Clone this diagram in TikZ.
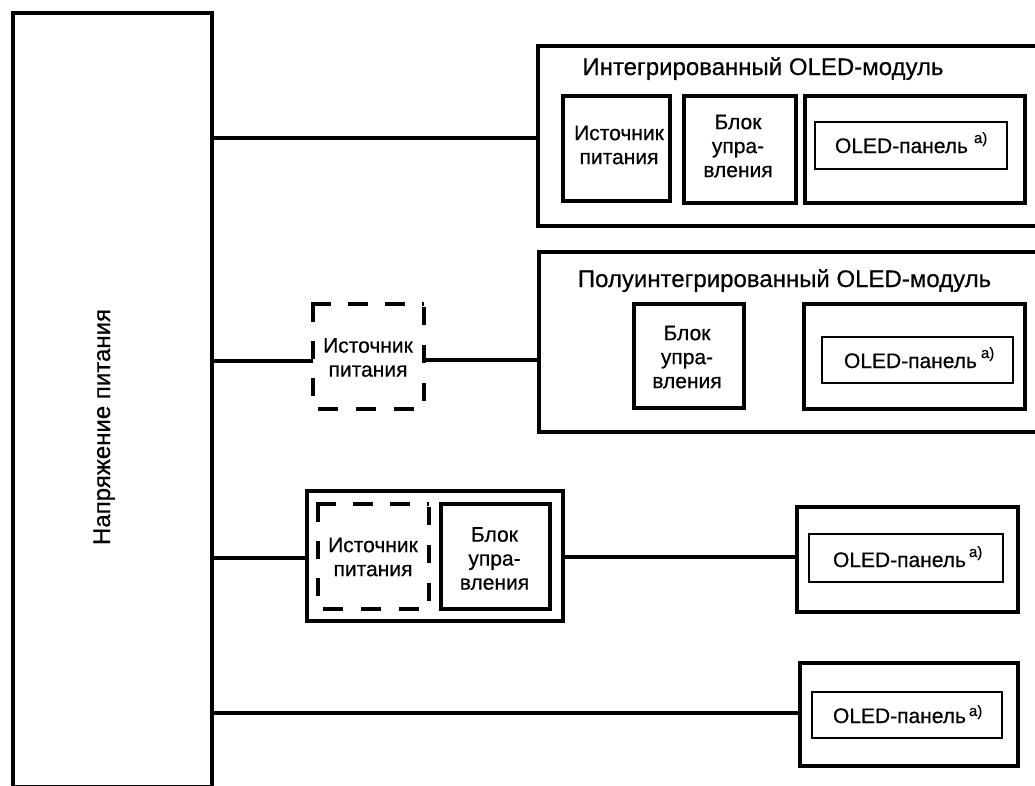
\documentclass[tikz,border=0pt]{standalone}
\usepackage{fontspec}
\setmainfont{Liberation Sans}[RawFeature={embolden=0.5}]
\tikzset{
  every node/.style={outer sep=0pt,inner sep=0pt},
  heavy/.style={draw=black,line width=4pt,fill=none},
  thin box/.style={draw=black,line width=2pt,fill=none},
  plain/.style={draw=none},
  wire/.style={draw=black,line width=4pt},
  dashline/.style={draw=black,line width=4pt},
  body/.style={font=\fontsize{21}{24}\selectfont,align=center,anchor=center},
  oneline/.style={font=\fontsize{21}{24}\selectfont,anchor=base west},
  title/.style={font=\fontsize{24}{24}\selectfont,anchor=base},
}
% name, x1, y1, x2, y2, style
\newcommand{\bx}[6]{\node[#6,minimum width=#4pt-#2pt,minimum height=#5pt-#3pt] (#1) at ({(#2+#4)/2},{(#3+#5)/2}) {};}
\newcommand{\dashedframe}[1]{%
  \draw[dashline,dash pattern=on 20pt off 17pt] (#1.north west) ++(-2,0) -- (#1.north east);
  \draw[dashline,dash pattern=on 18pt off 19pt] (#1.north west) -- (#1.south west);
  \draw[dashline,dash pattern=on 18pt off 20pt,dash phase=35pt] (#1.north east) -- (#1.south east);
  \draw[dashline,dash pattern=on 20pt off 18pt,dash phase=33pt] (#1.south west) -- (#1.south east);
}
% name, x, baseline, gap before the note mark, its rise
\newcommand{\oled}[5]{\node[oneline] (#1) at (#2,#3) {OLED-панель\hspace{#4pt}\raisebox{#5pt}{\fontsize{15}{15}\selectfont а)}};}
\begin{document}
\begin{tikzpicture}[x=1pt,y=-1pt]
\useasboundingbox (0,0) rectangle (1035,785);
\fill[white] (0,0) rectangle (1035,785);
% supply bar
\bx{supply}{13}{13}{212}{787}{heavy}
\node[rotate=90,font=\fontsize{24}{24}\selectfont,anchor=base] (supplytext) at (110,427) {Напряжение питания};
% integrated module
\bx{m1}{538}{46}{1045}{226}{heavy}
\node[title] (m1t) at (763,75) {Интегрированный OLED-модуль};
\bx{m1s}{563}{96}{670}{201}{heavy}
\bx{m1c}{684}{96}{796}{203}{heavy}
\bx{m1p}{805}{96}{1025}{203}{heavy}
\bx{m1i}{815}{122}{1007}{169}{thin box}
\node[body] (m1st) at (619,145) {Источник\\питания};
\node[body] (m1ct) at (738,146) {Блок\\упра-\\вления};
\oled{m1o}{835}{153}{6}{10}
% semi-integrated module
\bx{m2}{539}{252}{1045}{432}{heavy}
\node[title] (m2t) at (784.5,287) {Полуинтегрированный OLED-модуль};
\bx{m2c}{634}{304}{744}{408}{heavy}
\bx{m2p}{804}{304}{1025}{409}{heavy}
\bx{m2i}{822}{337}{1013}{383}{thin box}
\node[body] (m2ct) at (687,357) {Блок\\упра-\\вления};
\oled{m2o}{844}{368}{4}{10}
% external supply
\bx{d1}{313}{304}{424}{409}{plain}
\dashedframe{d1}
\node[body] (d1t) at (368,357.5) {Источник\\питания};
% third row
\bx{g3}{307}{491}{563}{621}{heavy}
\bx{d3}{318}{504}{429}{609}{plain}
\dashedframe{d3}
\node[body] (d3t) at (373,557) {Источник\\питания};
\bx{c3}{441}{504}{550}{609}{heavy}
\node[body] (c3t) at (494.5,558.5) {Блок\\упра-\\вления};
\bx{p3}{797}{507}{1018}{612}{heavy}
\bx{i3}{809}{534}{1003}{582}{thin box}
\oled{p3o}{833}{567}{3}{10}
% fourth row
\bx{p4}{800}{663}{1018}{766}{heavy}
\bx{i4}{812}{692}{1002}{738}{thin box}
\oled{p4o}{833}{723}{3}{7}
% connectors
\coordinate (j1) at (supply.east |- 0,138);
\coordinate (e1) at (m1.west |- 0,138);
\draw[wire] (j1) -- (e1);
\coordinate (j2) at (supply.east |- 0,361);
\coordinate (k2) at (d1.west |- 0,361);
\draw[wire] (j2) -- (k2);
\coordinate (k3) at (d1.east |- 0,360);
\coordinate (e2) at (m2.west |- 0,360);
\draw[wire] (k3) -- (e2);
\coordinate (j3) at (supply.east |- 0,557.5);
\coordinate (k4) at (g3.west |- 0,557.5);
\draw[wire] (j3) -- (k4);
\coordinate (k5) at (g3.east |- 0,557);
\coordinate (e3) at (p3.west |- 0,557);
\draw[wire] (k5) -- (e3);
\coordinate (j4) at (supply.east |- 0,713);
\coordinate (e4) at (p4.west |- 0,713);
\draw[wire] (j4) -- (e4);
\end{tikzpicture}
\end{document}
